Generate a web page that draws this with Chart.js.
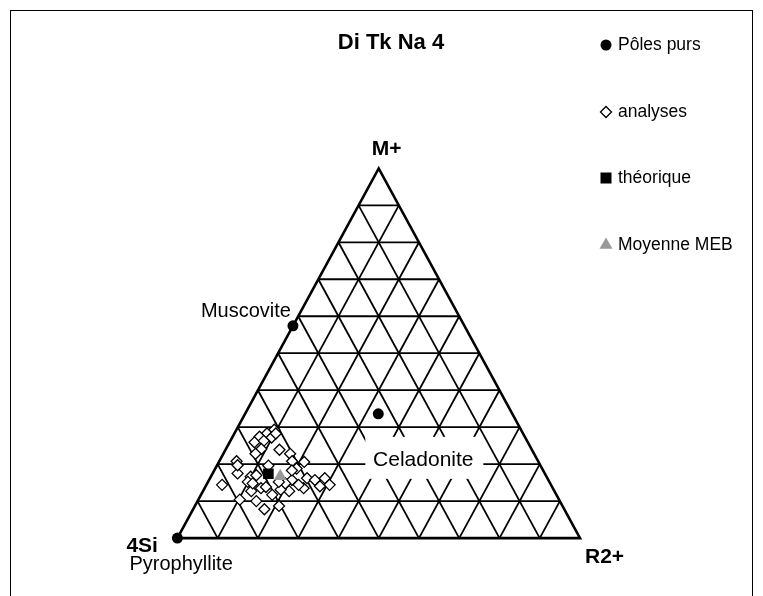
<!DOCTYPE html>
<html>
<head>
<meta charset="utf-8">
<script src="https://cdn.jsdelivr.net/npm/chart.js@4.4.0/dist/chart.umd.min.js"></script>
<style>
  body { margin: 0; background: #fff; }
  #wrap { position: relative; width: 763px; height: 596px; overflow: hidden; }
  #frame { position: absolute; left: 10px; top: 10px; width: 741px; height: 700px; border: 1px solid #000; }
  canvas { position: absolute; left: 0; top: 0; }
</style>
</head>
<body>
<div id="wrap">
  <div id="frame"></div>
  <canvas id="chart" width="763" height="596"></canvas>
</div>
<script>
const chartTitle = 'Di Tk Na 4';
const gridSteps = [0.1, 0.2, 0.3, 0.4, 0.5, 0.6, 0.7, 0.8, 0.9];
const legendLabels = ['Pôles purs', 'analyses', 'théorique', 'Moyenne MEB'];

// ternary values: M+ fraction and R2+ fraction (4Si = 1 - M - R)
const poleNames = ['Pyrophyllite', 'Muscovite', 'Celadonite'];
const poleM = [0, 0.574, 0.336];
const poleR = [0, 0, 0.331];

const analysesM = [0.293, 0.283, 0.274, 0.272, 0.259, 0.263, 0.241, 0.239, 0.228, 0.208, 0.228,
  0.208, 0.206, 0.175, 0.144, 0.166, 0.170, 0.135, 0.138, 0.127, 0.104, 0.100, 0.078, 0.188,
  0.157, 0.127, 0.162, 0.157, 0.162, 0.144, 0.140, 0.135, 0.144, 0.131, 0.087, 0.196, 0.152,
  0.148, 0.117, 0.183, 0.197, 0.283, 0.152, 0.148];
const analysesR = [0.094, 0.081, 0.067, 0.098, 0.062, 0.083, 0.088, 0.134, 0.080, 0.043, 0.166,
  0.181, 0.212, 0.062, 0.039, 0.099, 0.111, 0.140, 0.151, 0.120, 0.103, 0.146, 0.177, 0.202,
  0.206, 0.214, 0.241, 0.263, 0.285, 0.306, 0.284, 0.246, 0.229, 0.191, 0.209, 0.128, 0.099,
  0.194, 0.177, 0.193, 0.051, 0.103, 0.176, 0.113];

const theoM = [0.174];
const theoR = [0.139];
const mebM = [0.167];
const mebR = [0.172];

const FONT = "'Liberation Sans', Arial, sans-serif";

// M+ on top, 4Si bottom left, R2+ bottom right
function tern(m, r) {
    return { x: r + m / 2, y: m };
}
function toPoints(ms, rs) {
    return ms.map((m, i) => tern(m, rs[i]));
}

function gridLine(a, b) {
    return { type: 'line', data: [a, b], borderColor: '#000', borderWidth: 1.8,
             pointRadius: 0, fill: false, order: 10 };
}

const lineSets = [];
gridSteps.forEach(t => {
    lineSets.push(gridLine(tern(t, 0), tern(t, 1 - t)));
    lineSets.push(gridLine(tern(0, t), tern(1 - t, t)));
    lineSets.push(gridLine(tern(1 - t, 0), tern(0, 1 - t)));
});
lineSets.push({ type: 'line', data: [tern(0, 0), tern(1, 0), tern(0, 1), tern(0, 0)],
                borderColor: '#000', borderWidth: 2.6, pointRadius: 0, fill: false, order: 9 });

const labelPlugin = {
    id: 'labels',
    afterDatasetsDraw(chart) {
        const { ctx, scales: { x, y } } = chart;
        const pos = (m, r) => { const p = tern(m, r); return [x.getPixelForValue(p.x), y.getPixelForValue(p.y)]; };
        ctx.save();
        ctx.fillStyle = '#000';
        ctx.textBaseline = 'middle';

        // title
        ctx.textAlign = 'center';
        ctx.font = 'bold 22px ' + FONT;
        ctx.fillText(chartTitle, 391, 43);

        // corners
        const top = pos(1, 0), left = pos(0, 0), right = pos(0, 1);
        ctx.textAlign = 'left';
        ctx.font = 'bold 21px ' + FONT;
        ctx.fillText('M+', top[0] - 7, top[1] - 19);
        ctx.fillText('R2+', right[0] + 5, right[1] + 19);
        ctx.fillText('4Si', left[0] - 51, left[1] + 8);

        // pole names
        ctx.font = '20px ' + FONT;
        ctx.fillText(poleNames[0], left[0] - 48, left[1] + 26);
        const mus = pos(poleM[1], poleR[1]);
        ctx.textAlign = 'right';
        ctx.fillText(poleNames[1], mus[0] - 2, mus[1] - 14);
        const cel = pos(poleM[2], poleR[2]);
        ctx.fillStyle = '#fff';
        ctx.fillRect(cel[0] - 13, cel[1] + 23, 118, 42);
        ctx.fillStyle = '#000';
        ctx.textAlign = 'center';
        ctx.font = '21px ' + FONT;
        ctx.fillText(poleNames[2], cel[0] + 45, cel[1] + 46);

        // legend
        const lx = 606, ly = [45, 112, 178, 245];
        ctx.textAlign = 'left';
        ctx.font = '17.5px ' + FONT;
        legendLabels.forEach((t, i) => ctx.fillText(t, lx + 12, ly[i]));
        ctx.beginPath();
        ctx.arc(lx, ly[0], 5.5, 0, Math.PI * 2);
        ctx.fill();
        ctx.beginPath();
        ctx.moveTo(lx - 5.5, ly[1]); ctx.lineTo(lx, ly[1] - 5.5);
        ctx.lineTo(lx + 5.5, ly[1]); ctx.lineTo(lx, ly[1] + 5.5); ctx.closePath();
        ctx.lineWidth = 1.3;
        ctx.stroke();
        ctx.fillRect(lx - 5.5, ly[2] - 5.5, 11, 11);
        ctx.fillStyle = '#999';
        ctx.beginPath();
        ctx.moveTo(lx, ly[3] - 7.5); ctx.lineTo(lx + 6.5, ly[3] + 3.75);
        ctx.lineTo(lx - 6.5, ly[3] + 3.75); ctx.closePath();
        ctx.fill();
        ctx.restore();
    }
};

new Chart(document.getElementById('chart'), {
    type: 'scatter',
    data: {
        datasets: [
            { label: legendLabels[0], data: toPoints(poleM, poleR), pointStyle: 'circle', pointRadius: 5.5,
              backgroundColor: '#000', borderColor: '#000', borderWidth: 0, order: 0 },
            { label: legendLabels[2], data: toPoints(theoM, theoR), pointStyle: 'rect', pointRadius: 7.5,
              backgroundColor: '#000', borderColor: '#000', borderWidth: 0, order: 1 },
            { label: legendLabels[3], data: toPoints(mebM, mebR), pointStyle: 'triangle', pointRadius: 7.5,
              backgroundColor: '#999', borderColor: '#999', borderWidth: 0, order: 2 },
            { label: legendLabels[1], data: toPoints(analysesM, analysesR), pointStyle: 'rectRot', pointRadius: 5.5,
              backgroundColor: '#fff', borderColor: '#000', borderWidth: 1.3, order: 3 },
            ...lineSets
        ]
    },
    options: {
        responsive: false,
        animation: false,
        devicePixelRatio: 1,
        layout: { padding: 0 },
        plugins: { legend: { display: false }, tooltip: { enabled: false }, title: { display: false } },
        scales: {
            x: { type: 'linear', display: false, min: -0.42196, max: 1.43584 },
            y: { type: 'linear', display: false, min: -0.13631, max: 1.43501 }
        }
    },
    plugins: [labelPlugin]
});
</script>
</body>
</html>
